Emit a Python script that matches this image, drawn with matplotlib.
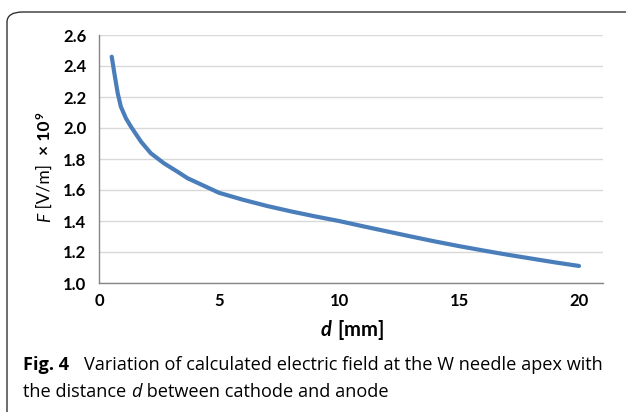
import matplotlib.pyplot as plt
from matplotlib.patches import FancyBboxPatch

plt.rcParams["mathtext.fontset"] = "custom"
plt.rcParams["mathtext.rm"] = "Lato"
plt.rcParams["mathtext.it"] = "Lato:italic"
plt.rcParams["mathtext.bf"] = "Lato:bold"
plt.rcParams["mathtext.bfit"] = "Lato:italic:bold"

# distance between cathode and anode [mm] and field at apex [V/m x 1e9]
d_mm = [0.53, 0.64, 0.78, 0.91, 1.12, 1.33, 1.75, 2.16, 2.71, 3.27, 3.69,
        5.0, 6.0, 7.0, 8.0, 9.0, 10.0, 11.0, 12.0, 13.0, 14.0, 15.0, 16.0,
        17.0, 18.0, 19.0, 20.0]
field = [2.460, 2.353, 2.224, 2.138, 2.063, 2.009, 1.912, 1.837, 1.772,
         1.718, 1.676, 1.582, 1.537, 1.497, 1.462, 1.430, 1.400, 1.366,
         1.333, 1.300, 1.268, 1.238, 1.210, 1.183, 1.158, 1.133, 1.110]

x_ticks = [0, 5, 10, 15, 20]
y_ticks = [1.0, 1.2, 1.4, 1.6, 1.8, 2.0, 2.2, 2.4, 2.6]

W, H = 626, 412
fig = plt.figure(figsize=(W / 100, H / 100), dpi=100)
renderer = fig.canvas.get_renderer()

# rounded frame, cut off at right and bottom like the journal figure box
frame = FancyBboxPatch((7 / W, -20 / H), 640 / W, (H - 12 + 20) / H,
                       boxstyle="round,pad=0,rounding_size=0.025",
                       transform=fig.transFigure, fill=False,
                       edgecolor="#333333", linewidth=1.0)
fig.patches.append(frame)

ax = fig.add_axes([99 / W, 1 - 283 / H, (603 - 99) / W, (283 - 35) / H])
ax.plot(d_mm, field, color="#4a7ebb", linewidth=3.0, solid_capstyle="round",
        solid_joinstyle="round")

ax.set_xlim(0.04, 21.0)
ax.set_ylim(1.0, 2.6)
ax.set_xticks(x_ticks)
ax.set_yticks(y_ticks)
ax.set_yticklabels([f"{v:.1f}" for v in y_ticks])
ax.grid(axis="y", color="#d9d9d9", linewidth=1.0)
ax.set_axisbelow(True)
for s in ["top", "right"]:
    ax.spines[s].set_visible(False)
for s in ["left", "bottom"]:
    ax.spines[s].set_color("#868686")
    ax.spines[s].set_linewidth(1.0)
ax.tick_params(axis="y", length=0, pad=9)
ax.tick_params(axis="x", length=0, pad=7)
for lab in ax.get_xticklabels() + ax.get_yticklabels():
    lab.set_fontfamily("Lato")
    lab.set_fontweight("bold")
    lab.set_fontsize(12)

fig.text(352 / W, 1 - 330 / H, r"$\bfit{d}$ $\mathbf{[mm]}$", ha="center",
         va="center", fontsize=14.5)

# y label as vertical runs: F italic, [V/m] regular, x 10^9 bold
y_px = 222
for txt, kw in [("F", {"fontstyle": "italic"}), (" [V/m]  ", {}),
                ("\u00d7 10", {"fontweight": "bold"})]:
    t = fig.text(45 / W, 1 - y_px / H, txt, rotation=90, ha="center",
                 va="bottom", fontsize=12.5, fontfamily="Lato", **kw)
    y_px = H - t.get_window_extent(renderer).y1
fig.text(40 / W, 1 - (y_px - 1) / H, "9", rotation=90, ha="center",
         va="bottom", fontsize=8.5, fontfamily="Lato", fontweight="bold")

# caption, written as runs so that "d" can be italic


def put_runs(x_px, y_px, runs):
    for txt, kw in runs:
        t = fig.text(x_px / W, 1 - y_px / H, txt, ha="left", va="center",
                     fontsize=13.1, fontfamily="Open Sans", **kw)
        x_px = t.get_window_extent(renderer).x1


put_runs(23, 365, [("Fig. 4", {"fontweight": "bold"})])
put_runs(84, 365, [("Variation of calculated electric field at the W needle apex with", {})])
put_runs(23, 392, [("the distance ", {}), ("d", {"fontstyle": "italic"}),
                   (" between cathode and anode", {})])

fig.savefig("out.png", dpi=100)
